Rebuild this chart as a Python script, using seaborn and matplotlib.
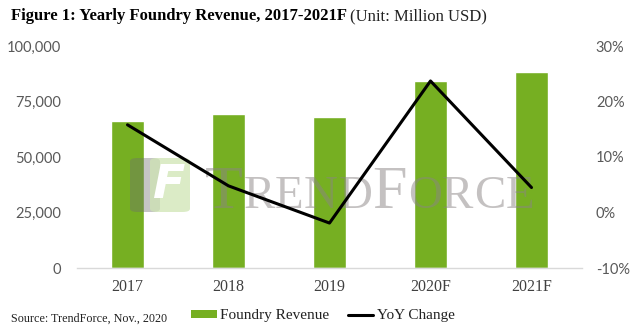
import matplotlib
matplotlib.use("Agg")
import matplotlib.pyplot as plt
import seaborn as sns
import pandas as pd
import numpy as np
from matplotlib.ticker import FuncFormatter
from matplotlib.lines import Line2D
from matplotlib.patches import Patch, FancyBboxPatch

categories = ["2017", "2018", "2019", "2020F", "2021F"]
revenue = [66200, 69400, 68000, 84400, 88400]
yoy = [15.8, 4.8, -1.9, 23.7, 4.5]

left_ticks = [0, 25000, 50000, 75000, 100000]
right_ticks = [-10, 0, 10, 20, 30]

df = pd.DataFrame({"year": categories, "revenue": revenue, "yoy": yoy})
df["pos"] = np.arange(len(df))

sns.set_theme(style="white")
SERIF = ["Liberation Serif", "DejaVu Serif"]
plt.rcParams["font.family"] = SERIF

GREEN = "#76AF22"
TICKC = "#595959"

W, H = 643, 332
fig = plt.figure(figsize=(W/100, H/100), dpi=100)
ax = fig.add_axes([77/W, 1-268/H, 505/W, 222/H])
ax2 = ax.twinx()

sns.barplot(data=df, x="year", y="revenue", color=GREEN, width=0.33,
            saturation=1, ax=ax, zorder=2)
sns.lineplot(data=df, x="pos", y="yoy", color="black", linewidth=2.2,
             ax=ax2, zorder=4)

ax.set_xlim(-0.5, 4.5)
ax.set_ylim(0, 100000)
ax.set_yticks(left_ticks)
ax.yaxis.set_major_formatter(FuncFormatter(lambda v, p: f"{int(v):,}"))
ax2.set_ylim(-10, 30)
ax2.set_yticks(right_ticks)
ax2.yaxis.set_major_formatter(FuncFormatter(lambda v, p: f"{int(v)}%"))

for a in (ax, ax2):
    a.set_xlabel("")
    a.set_ylabel("")
    for s in a.spines.values():
        s.set_visible(False)
    a.grid(False)
ax.spines["bottom"].set_visible(True)
ax.spines["bottom"].set_color("#d9d9d9")
ax.spines["bottom"].set_linewidth(1)

ax.tick_params(axis="x", length=0, pad=8, labelsize=11.5, labelcolor="#404040")
ax.tick_params(axis="y", length=0, pad=11.5, labelsize=10.5, labelcolor=TICKC)
ax2.tick_params(axis="y", length=0, pad=10, labelsize=10.5, labelcolor=TICKC)
for lab in ax.get_yticklabels() + ax2.get_yticklabels():
    lab.set_family(["Lato", "DejaVu Sans"])

fig.canvas.draw()
renderer = fig.canvas.get_renderer()

def px_to_fig(x, y):
    return x / W, 1 - y / H

def ax_from_px(x, y):
    return (x - 77) / 505, (268 - y) / 222

# ---- watermark logo (approximate) ----
x0, y0 = ax_from_px(130, 212)
x1, y1 = ax_from_px(160, 158)
ax.add_patch(FancyBboxPatch((x0, y0), x1 - x0, y1 - y0, boxstyle="round,pad=0,rounding_size=0.015",
                            transform=ax.transAxes, facecolor="#6e6e6e", alpha=0.4,
                            edgecolor="none", zorder=3))
x0, y0 = ax_from_px(150, 212)
x1, y1 = ax_from_px(190, 158)
ax.add_patch(FancyBboxPatch((x0, y0), x1 - x0, y1 - y0, boxstyle="round,pad=0,rounding_size=0.015",
                            transform=ax.transAxes, facecolor="#cfe5b4", alpha=0.75,
                            edgecolor="none", zorder=3))
fx, fy = ax_from_px(169, 186)
ax.text(fx, fy, "F", transform=ax.transAxes, fontsize=34, fontweight="bold", style="italic",
        family=["DejaVu Sans"], color="white", ha="center", va="center", zorder=3)

# ---- watermark wordmark ----
letters = [("T", 41), ("R", 31), ("E", 31), ("N", 31), ("D", 31),
           ("F", 41), ("O", 31), ("R", 31), ("C", 31), ("E", 31)]
base_y = 208
cur_x = 205
tracking = 0.4
for ch, cap in letters:
    fs = cap / 0.66 * 72 / 100
    bx, by = ax_from_px(cur_x, base_y)
    t = ax.text(bx, by, ch, transform=ax.transAxes, fontsize=fs, color="#8a8585",
                alpha=0.5, family="Liberation Serif", ha="left", va="baseline", zorder=3)
    bb = t.get_window_extent(renderer)
    cur_x += bb.width + tracking

# ---- title ----
tx, ty = px_to_fig(11, 16)
t1 = fig.text(tx, ty, "Figure 1: Yearly Foundry Revenue, 2017-2021F ",
              fontsize=12, fontweight="bold", color="black", va="center", ha="left")
bb = t1.get_window_extent(renderer)
fig.text(bb.x1 / W, ty, "(Unit: Million USD)", fontsize=12, color="#222222",
         va="center", ha="left")

# ---- source ----
sx, sy = px_to_fig(11, 319)
fig.text(sx, sy, "Source: TrendForce, Nov., 2020", fontsize=8.7,
         color="#222222", va="center", ha="left")

handles = [Patch(facecolor=GREEN, edgecolor="none", label="Foundry Revenue"),
           Line2D([], [], color="black", linewidth=2.2, label="YoY Change")]
lx, ly = px_to_fig(323, 316)
fig.legend(handles=handles, loc="center", bbox_to_anchor=(lx, ly),
           ncol=2, frameon=False, fontsize=11, handlelength=1.65, handleheight=0.4,
           handletextpad=0.25, columnspacing=1.2, labelcolor="#222222")

fig.savefig("out.png", dpi=100)
